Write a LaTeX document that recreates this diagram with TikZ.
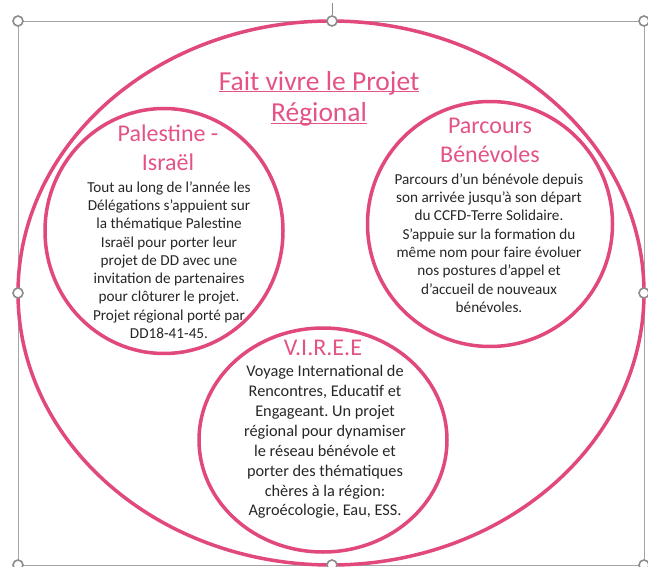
\documentclass[tikz,border=0pt]{standalone}
\usepackage{fontspec}
\setmainfont{Carlito}
\usetikzlibrary{shapes.geometric}
\definecolor{pinkline}{RGB}{225,72,125}
\definecolor{pinktext}{RGB}{228,82,135}
\definecolor{handlegray}{RGB}{140,140,140}
\definecolor{framegray}{RGB}{165,165,165}
\newcommand{\ulword}[1]{\underline{\smash{#1}}}
\frenchspacing

\begin{document}
\begin{tikzpicture}[x=1pt, y=-1pt,
  ring/.style={draw=pinkline, line width=3.5pt, ellipse, inner sep=0pt},
  headtxt/.style={text=pinktext, align=center, inner sep=0pt,
    font=\fontsize{24}{29}\selectfont},
  bodytxt/.style={text=black!85, align=center, inner sep=0pt,
    font=\fontsize{15.2}{18.3}\selectfont},
  handle/.style={circle, draw=handlegray, fill=white, line width=1.6pt,
    minimum size=10pt, inner sep=0pt},
]
  \useasboundingbox (0,0) rectangle (648,567);
  % cadre de sélection
  \draw[framegray, line width=0.8pt] (18,21) rectangle (644,565);
  \coordinate (rot) at (332,3);

  % ellipse générale et les trois projets
  \node[ring, minimum width=626pt, minimum height=544pt] (region) at (331,293) {};
  \node[ring, minimum width=238pt, minimum height=245pt] (pal) at (164,231) {};
  \node[ring, minimum width=245pt, minimum height=245pt] (benev) at (490,224) {};
  \node[ring, minimum width=248pt, minimum height=224pt] (viree) at (323,440) {};

  \node[headtxt, font=\fontsize{27.5}{32}\selectfont] (titre) at (319,107)
    {\ulword{Fait vivre le Projet}\\\ulword{Régional}};

  \node[headtxt] (paltitre) at (168,148) {Palestine -\\Israël};
  \node[bodytxt] (paltxt) at (169,260)
    {Tout au long de l'année les\\Délégations s'appuient sur\\la thématique Palestine\\
     Israël pour porter leur\\projet de DD avec une\\invitation de partenaires\\
     pour clôturer le projet.\\Projet régional porté par\\DD18-41-45.};

  \node[headtxt] (benevtitre) at (490,140) {Parcours\\Bénévoles};
  \node[bodytxt] (benevtxt) at (489,243)
    {Parcours d'un bénévole depuis\\son arrivée jusqu'à son départ\\
     du CCFD-Terre Solidaire.\\S'appuie sur la formation du\\
     même nom pour faire évoluer\\nos postures d'appel et\\
     d'accueil de nouveaux\\bénévoles.};

  \node[headtxt] (vireetitre) at (323,348) {V.I.R.E.E};
  \node[bodytxt, font=\fontsize{16.3}{19.9}\selectfont] (vireetxt) at (325,442)
    {Voyage International de\\Rencontres, Educatif et\\Engageant. Un projet\\
     régional pour dynamiser\\le réseau bénévole et\\porter des thématiques\\
     chères à la région:\\Agroécologie, Eau, ESS.};

  % poignées
  \foreach \nm/\hx/\hy in {hnw/18/21, hn/332/21, hne/644/21, hw/18/293,
      he/644/293, hsw/18/565, hs/332/565, hse/644/565}
    \node[handle] (\nm) at (\hx,\hy) {};
  \draw[handlegray, line width=1pt] (rot) -- (hn);
\end{tikzpicture}
\end{document}
